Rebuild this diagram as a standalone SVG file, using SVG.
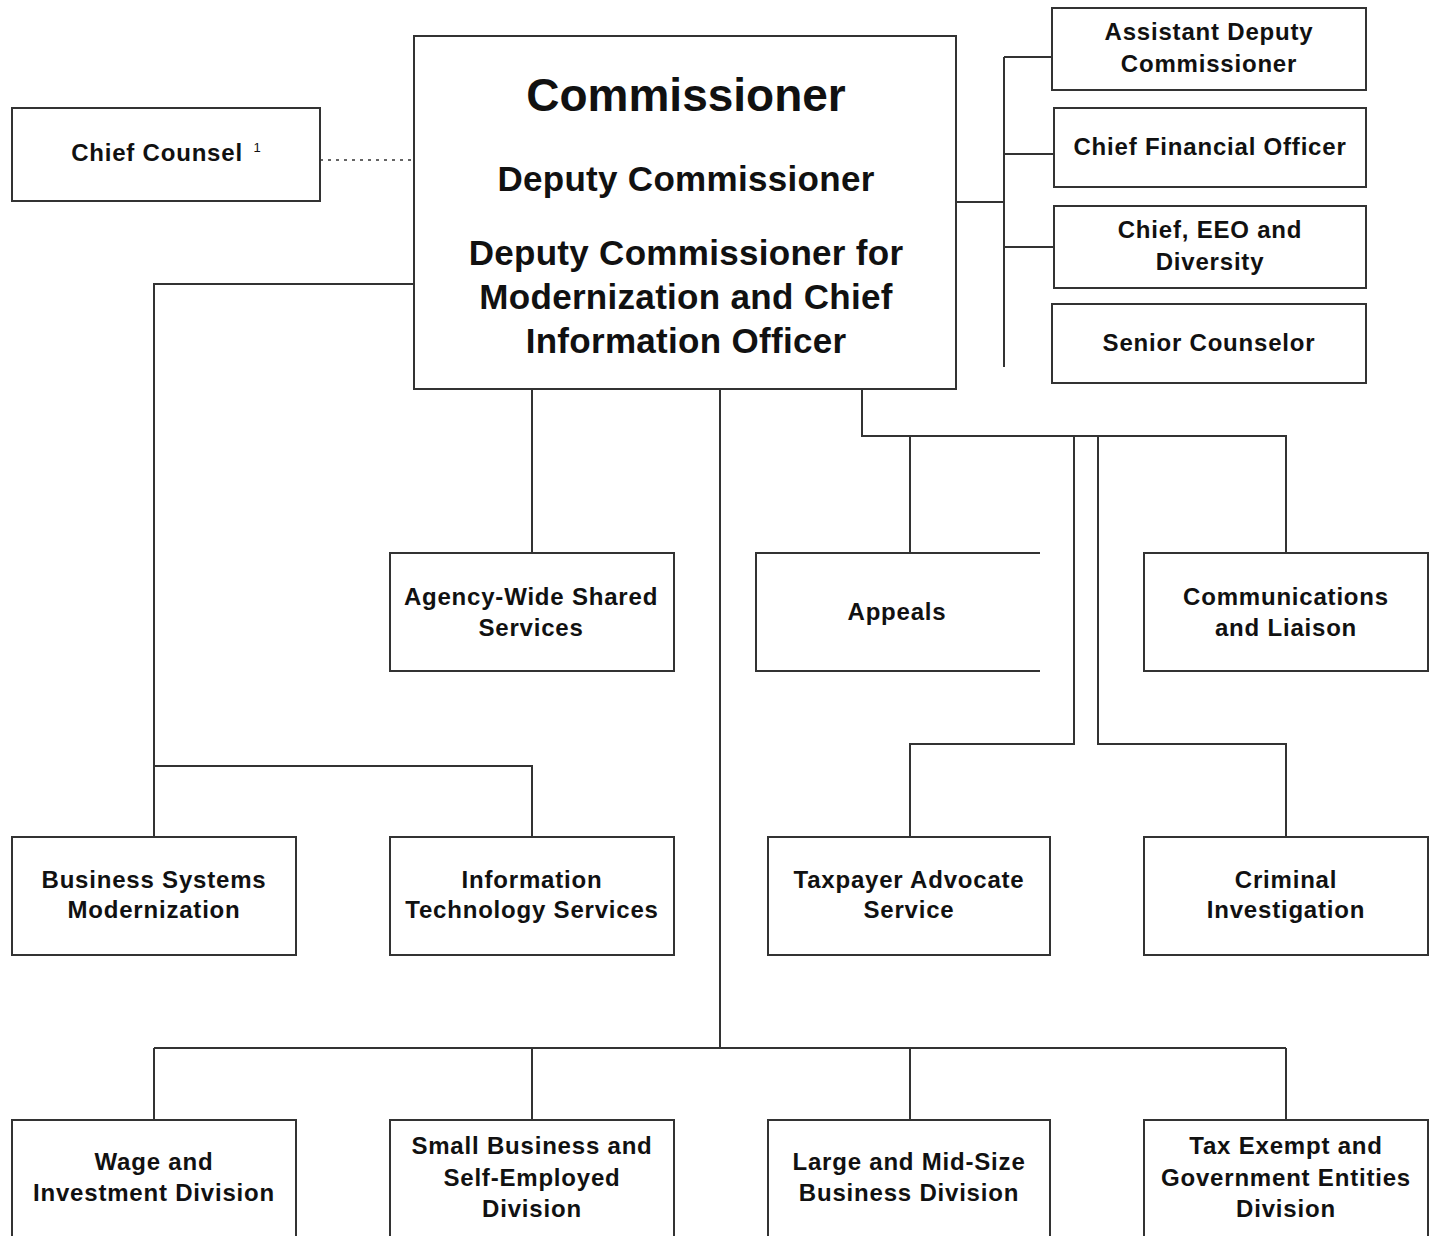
<svg xmlns="http://www.w3.org/2000/svg" width="1434" height="1236" viewBox="0 0 1434 1236">
<style>
  .box { fill: #fff; stroke: #333; stroke-width: 2; }
  .ln { fill: none; stroke: #333; stroke-width: 2; }
  .dot { fill: none; stroke: #333; stroke-width: 1.5; stroke-dasharray: 3 5; }
  text { font-family: "Liberation Sans", Arial, sans-serif; font-weight: bold; fill: #111; text-anchor: middle; }
  .t { font-size: 24px; letter-spacing: 0.8px; }
  .big { font-size: 46px; }
  .mid { font-size: 35px; letter-spacing: 0.3px; }
</style>
<rect width="1434" height="1236" fill="#fff"/>
<g id="connectors">
  <line class="dot" x1="320" y1="160" x2="414" y2="160"/>
  <polyline class="ln" points="956,202 1004,202"/>
  <line class="ln" x1="1004" y1="57" x2="1004" y2="367"/>
  <line class="ln" x1="1004" y1="57" x2="1052" y2="57"/>
  <line class="ln" x1="1004" y1="154" x2="1054" y2="154"/>
  <line class="ln" x1="1004" y1="247" x2="1054" y2="247"/>
  <polyline class="ln" points="414,284 154,284 154,837"/>
  <polyline class="ln" points="154,766 532,766 532,837"/>
  <line class="ln" x1="532" y1="389" x2="532" y2="553"/>
  <line class="ln" x1="720" y1="389" x2="720" y2="1048"/>
  <polyline class="ln" points="862,389 862,436 1286,436 1286,553"/>
  <line class="ln" x1="910" y1="436" x2="910" y2="553"/>
  <polyline class="ln" points="1074,436 1074,744 910,744 910,837"/>
  <polyline class="ln" points="1098,436 1098,744 1286,744 1286,837"/>
  <line class="ln" x1="154" y1="1048" x2="1286" y2="1048" stroke-width="1.5"/>
  <line class="ln" x1="154" y1="1048" x2="154" y2="1120"/>
  <line class="ln" x1="532" y1="1048" x2="532" y2="1120"/>
  <line class="ln" x1="910" y1="1048" x2="910" y2="1120"/>
  <line class="ln" x1="1286" y1="1048" x2="1286" y2="1120"/>
</g>
<g id="commissioner">
  <rect class="box" x="414" y="36" width="542" height="353"/>
  <text class="big" x="686" y="111">Commissioner</text>
  <text class="mid" x="686" y="191">Deputy Commissioner</text>
  <text class="mid" x="686" y="265">Deputy Commissioner for</text>
  <text class="mid" x="686" y="309">Modernization and Chief</text>
  <text class="mid" x="686" y="353">Information Officer</text>
</g>
<g id="chief-counsel">
  <rect class="box" x="12" y="108" width="308" height="93"/>
  <text class="t" x="157" y="161">Chief Counsel</text>
  <text x="257" y="152" style="font-size:13px;font-weight:normal">1</text>
</g>
<g id="assistant-deputy">
  <rect class="box" x="1052" y="8" width="314" height="82"/>
  <text class="t" x="1209" y="40">Assistant Deputy</text>
  <text class="t" x="1209" y="72">Commissioner</text>
</g>
<g id="cfo">
  <rect class="box" x="1054" y="108" width="312" height="79"/>
  <text class="t" x="1210" y="155">Chief Financial Officer</text>
</g>
<g id="eeo">
  <rect class="box" x="1054" y="206" width="312" height="82"/>
  <text class="t" x="1210" y="238">Chief, EEO and</text>
  <text class="t" x="1210" y="270">Diversity</text>
</g>
<g id="senior-counselor">
  <rect class="box" x="1052" y="304" width="314" height="79"/>
  <text class="t" x="1209" y="351">Senior Counselor</text>
</g>
<g id="agency-wide">
  <rect class="box" x="390" y="553" width="284" height="118"/>
  <text class="t" x="531" y="605">Agency-Wide Shared</text>
  <text class="t" x="531" y="636">Services</text>
</g>
<g id="appeals">
  <polyline class="ln" points="1040,553 756,553 756,671 1040,671"/>
  <text class="t" x="897" y="620">Appeals</text>
</g>
<g id="communications">
  <rect class="box" x="1144" y="553" width="284" height="118"/>
  <text class="t" x="1286" y="605">Communications</text>
  <text class="t" x="1286" y="636">and Liaison</text>
</g>
<g id="bsm">
  <rect class="box" x="12" y="837" width="284" height="118"/>
  <text class="t" x="154" y="888">Business Systems</text>
  <text class="t" x="154" y="918">Modernization</text>
</g>
<g id="its">
  <rect class="box" x="390" y="837" width="284" height="118"/>
  <text class="t" x="532" y="888">Information</text>
  <text class="t" x="532" y="918">Technology Services</text>
</g>
<g id="taxpayer-advocate">
  <rect class="box" x="768" y="837" width="282" height="118"/>
  <text class="t" x="909" y="888">Taxpayer Advocate</text>
  <text class="t" x="909" y="918">Service</text>
</g>
<g id="criminal-investigation">
  <rect class="box" x="1144" y="837" width="284" height="118"/>
  <text class="t" x="1286" y="888">Criminal</text>
  <text class="t" x="1286" y="918">Investigation</text>
</g>
<g id="wage-investment">
  <polyline class="ln" points="12,1240 12,1120 296,1120 296,1240"/>
  <text class="t" x="154" y="1170">Wage and</text>
  <text class="t" x="154" y="1201">Investment Division</text>
</g>
<g id="small-business">
  <polyline class="ln" points="390,1240 390,1120 674,1120 674,1240"/>
  <text class="t" x="532" y="1154">Small Business and</text>
  <text class="t" x="532" y="1186">Self-Employed</text>
  <text class="t" x="532" y="1217">Division</text>
</g>
<g id="large-midsize">
  <polyline class="ln" points="768,1240 768,1120 1050,1120 1050,1240"/>
  <text class="t" x="909" y="1170">Large and Mid-Size</text>
  <text class="t" x="909" y="1201">Business Division</text>
</g>
<g id="tax-exempt">
  <polyline class="ln" points="1144,1240 1144,1120 1428,1120 1428,1240"/>
  <text class="t" x="1286" y="1154">Tax Exempt and</text>
  <text class="t" x="1286" y="1186">Government Entities</text>
  <text class="t" x="1286" y="1217">Division</text>
</g>
</svg>
